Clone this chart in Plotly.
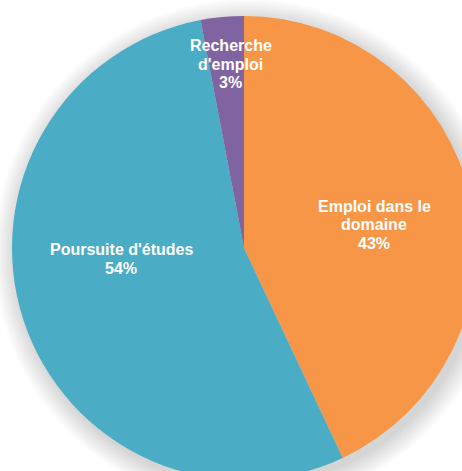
import plotly.graph_objects as go

# ---- data ----
categories = ["Emploi dans le domaine", "Poursuite d'études", "Recherche d'emploi"]
label_lines = [["Emploi dans le", "domaine"], ["Poursuite d'études"], ["Recherche", "d'emploi"]]
values = [43, 54, 3]
colors = ["#F79646", "#4BACC6", "#8064A2"]

# ---- layout geometry (pixels) ----
W, H = 490, 496
cx, cy, R = 244, 248, 232
label_pos = [(374, 224.5), (121, 259), (230.5, 64)]
line_h = 18.5

fig = go.Figure()
fig.add_trace(go.Pie(
    labels=categories, values=values, sort=False, direction="clockwise", rotation=0,
    marker=dict(colors=colors, line=dict(width=0)),
    textinfo="none", hoverinfo="label+percent", showlegend=False,
    domain=dict(x=[(cx - R) / W, (cx + R) / W], y=[1 - (cy + R) / H, 1 - (cy - R) / H]),
))

# soft shadow
shapes = []
n = 14
for i in range(n):
    r = R + 22 - i * 1.6
    shapes.append(dict(
        type="circle", xref="paper", yref="paper", xsizemode="pixel", ysizemode="pixel",
        xanchor=(cx + 4) / W, yanchor=1 - (cy + 5) / H,
        x0=-r, x1=r, y0=-r, y1=r,
        fillcolor="rgba(0,0,0,0.013)", line=dict(width=0), layer="below",
    ))

total = sum(values)
annotations = []
for lines, v, (px, py) in zip(label_lines, values, label_pos):
    all_lines = lines + [f"{round(100 * v / total)}%"]
    k = len(all_lines)
    for j, t in enumerate(all_lines):
        annotations.append(dict(
            text=f"<b>{t}</b>", x=px / W, y=1 - py / H, xref="paper", yref="paper",
            xanchor="center", yanchor="middle", showarrow=False,
            yshift=((k - 1) / 2 - j) * line_h,
            font=dict(family="Arial", size=16, color="white"),
        ))

fig.update_layout(
    width=W, height=H, margin=dict(l=0, r=0, t=0, b=0),
    paper_bgcolor="white", plot_bgcolor="white",
    shapes=shapes, annotations=annotations,
)

fig.write_html("out.html", config={"displayModeBar": False},
               post_script="document.body.style.margin='0';document.body.style.overflow='hidden';")
